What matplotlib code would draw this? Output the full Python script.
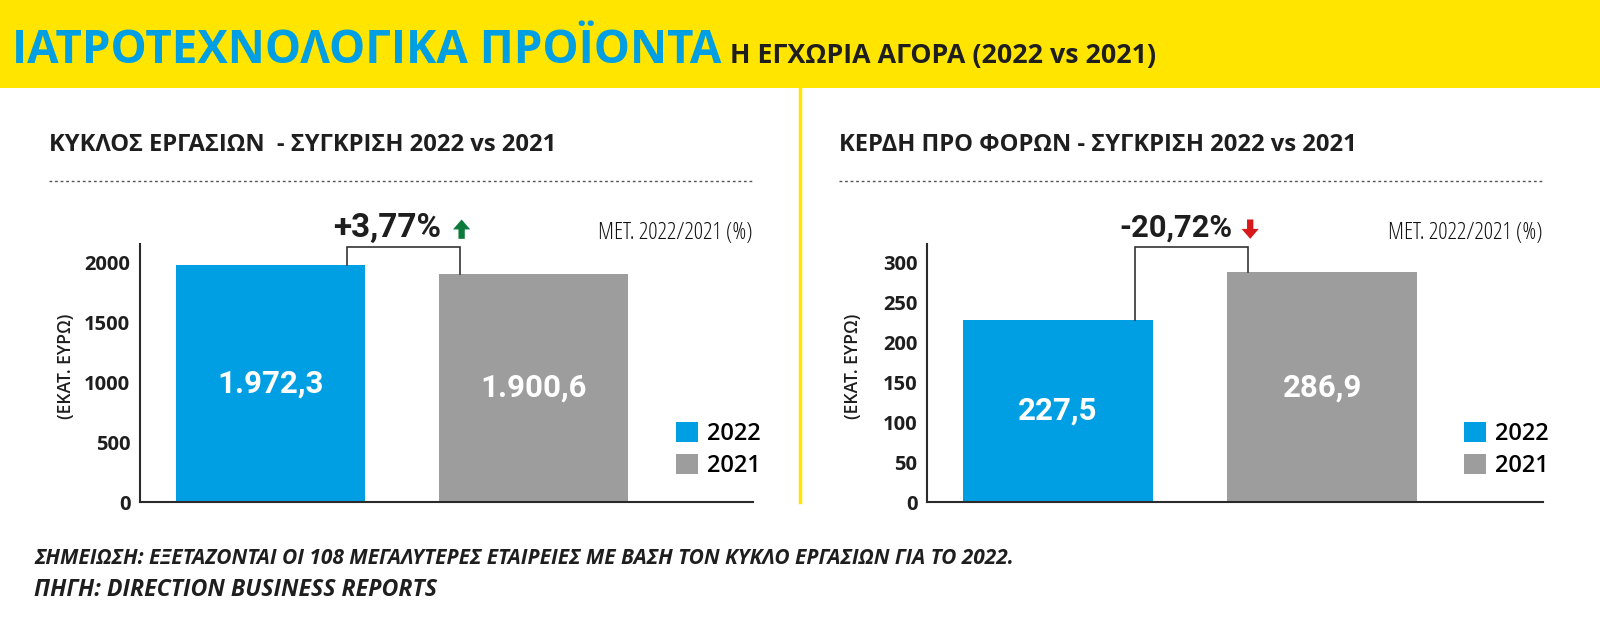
import matplotlib
matplotlib.use('Agg')
import matplotlib.pyplot as plt
from matplotlib.patches import Rectangle, Patch
from matplotlib.lines import Line2D
import matplotlib.transforms as mtrans

# ---------------- data ----------------
years = ['2022', '2021']
turnover = [1972.3, 1900.6]
profit = [227.5, 286.9]
pct_change = [3.77, -20.72]
panel_titles = ['ΚΥΚΛΟΣ ΕΡΓΑΣΙΩΝ  - ΣΥΓΚΡΙΣΗ 2022 vs 2021',
                'ΚΕΡΔΗ ΠΡΟ ΦΟΡΩΝ - ΣΥΓΚΡΙΣΗ 2022 vs 2021']
yticks_left = [0, 500, 1000, 1500, 2000]
yticks_right = [0, 50, 100, 150, 200, 250, 300]
ylim_left = 2150
ylim_right = 322.5
ylabel = '(ΕΚΑΤ. ΕΥΡΩ)'
change_label = 'ΜΕΤ. 2022/2021 (%)'
main_title = 'ΙΑΤΡΟΤΕΧΝΟΛΟΓΙΚΑ ΠΡΟΪΟΝΤΑ'
sub_title = 'Η ΕΓΧΩΡΙΑ ΑΓΟΡΑ (2022 vs 2021)'
notes = ['ΣΗΜΕΙΩΣΗ: ΕΞΕΤΑΖΟΝΤΑΙ ΟΙ 108 ΜΕΓΑΛΥΤΕΡΕΣ ΕΤΑΙΡΕΙΕΣ ΜΕ ΒΑΣΗ ΤΟΝ ΚΥΚΛΟ ΕΡΓΑΣΙΩΝ ΓΙΑ ΤΟ 2022.',
         'ΠΗΓΗ: DIRECTION BUSINESS REPORTS']

# ---------------- style ----------------
YELLOW = '#FFE500'
BLUE = '#009FE3'
GRAY = '#9D9D9D'
DARK = '#1E1E1E'
GREEN = '#0B7A3B'
RED = '#D7191C'
NARROW = ['Open Sans', 'DejaVu Sans']
HUMAN = ['Roboto', 'DejaVu Sans']
NKW = dict(family=NARROW, fontstretch='condensed')

W, H = 1600, 622
fig = plt.figure(figsize=(16, 6.22), dpi=100)
fig.patch.set_facecolor('white')


def fx(x):
    return x / W


def fy(y):
    return 1 - y / H


fits = []


def fit(t, length, vertical=False):
    fits.append((t, length, vertical))
    return t


def ftext(x, y, s, width=None, **kw):
    t = fig.text(fx(x), fy(y), s, **kw)
    if width:
        fit(t, width)
    return t


def fmt_gr(v):
    s = f'{v:,.1f}'
    return s.replace(',', 'X').replace('.', ',').replace('X', '.')


# header band
fig.add_artist(Rectangle((0, fy(88)), 1, 88 / H, transform=fig.transFigure,
                         facecolor=YELLOW, edgecolor='none', zorder=0))
fig.add_artist(Line2D([fx(800), fx(800)], [fy(88), fy(502)], transform=fig.transFigure,
                      color=YELLOW, lw=2.5))
ftext(12, 63, main_title, width=708, color='#009FE3', fontsize=31,
      fontweight='bold', va='baseline', ha='left', **NKW)
ftext(730, 63, sub_title, width=425, color=DARK, fontsize=24,
      fontweight='bold', va='baseline', ha='left', **NKW)

# footnotes
ftext(34, 559, notes[0], width=971, color=DARK, fontsize=13, fontweight='bold',
      fontstyle='italic', va='center', ha='left', **NKW)
ftext(34, 590, notes[1], width=402, color=DARK, fontsize=13, fontweight='bold',
      fontstyle='italic', va='center', ha='left', **NKW)

panels = [
    dict(values=turnover, ticks=yticks_left, ylim=ylim_left, x0=140, x1=753,
         title_x=49, title_w=508, dot=(49, 753), pct=pct_change[0], pct_w=108,
         legx=676, ylab_x=66),
    dict(values=profit, ticks=yticks_right, ylim=ylim_right, x0=927, x1=1543,
         title_x=839, title_w=516, dot=(839, 1543), pct=pct_change[1], pct_w=113,
         legx=1464, ylab_x=853),
]

for i, p in enumerate(panels):
    ax = fig.add_axes([fx(p['x0']), fy(502), (p['x1'] - p['x0']) / W, (502 - 244) / H])
    vals = p['values']
    ax.bar([0, 1], vals, width=0.72, color=[BLUE, GRAY], zorder=2)
    ax.set_xlim(-0.496, 1.835)
    ax.set_ylim(0, p['ylim'])
    ax.set_yticks(p['ticks'])
    ax.set_yticklabels([str(t) for t in p['ticks']], fontsize=14.5,
                       color=DARK, fontweight='bold', **NKW)
    ax.set_xticks([])
    ax.tick_params(axis='y', length=0, pad=7)
    for s in ['top', 'right']:
        ax.spines[s].set_visible(False)
    for s in ['left', 'bottom']:
        ax.spines[s].set_color('#2A2A2A')
        ax.spines[s].set_linewidth(1.5)
    ax.patch.set_alpha(0)

    # value labels
    for xi, v in enumerate(vals):
        ax.text(xi, v / 2, fmt_gr(v), ha='center', va='center', color='white',
                fontsize=22.5, fontweight='bold', family=HUMAN, zorder=3)

    # bracket
    top = p['ylim'] * 0.988
    ax.plot([0.29, 0.29, 0.72, 0.72], [vals[0], top, top, vals[1]], color='#333333',
            lw=1.2, clip_on=False, zorder=4, solid_joinstyle='miter')

    trans = mtrans.blended_transform_factory(ax.transData, ax.transAxes)
    sign = '+' if p['pct'] > 0 else '-'
    pct_txt = sign + f'{abs(p["pct"]):.2f}'.replace('.', ',') + '%'
    t = ax.text(0.445, 1.062, pct_txt, transform=trans, ha='center', va='center',
                fontsize=19, fontweight='bold', family=HUMAN, color=DARK)
    fit(t, p['pct_w'])
    up = p['pct'] > 0
    y_lo, y_hi = 1.02, 1.095
    ax.annotate('', xy=(0.727, y_hi if up else y_lo), xytext=(0.727, y_lo if up else y_hi),
                xycoords=trans, textcoords=trans, annotation_clip=False,
                arrowprops=dict(arrowstyle='simple,head_length=0.55,head_width=0.95,tail_width=0.35',
                                color=GREEN if up else RED, mutation_scale=13,
                                shrinkA=0, shrinkB=0, lw=0))

    t = ax.text(1.0, 1.043, change_label, transform=ax.transAxes, ha='right', va='center',
                fontsize=15, color='#111111', fontweight='light', **NKW)
    fit(t, 155)

    # legend
    ax.legend(handles=[Patch(facecolor=BLUE, edgecolor='none', label=years[0]),
                       Patch(facecolor=GRAY, edgecolor='none', label=years[1])],
              loc='center left', bbox_to_anchor=(fx(p['legx']), fy(450)),
              bbox_transform=fig.transFigure, frameon=False,
              prop=dict(family=NARROW, stretch='condensed', size=17, weight='semibold'),
              handlelength=0.95, handleheight=0.95,
              handletextpad=0.35, labelspacing=0.35, borderpad=0, borderaxespad=0)

    # panel title & dotted rule
    ftext(p['title_x'], 145, panel_titles[i], width=p['title_w'], color=DARK,
          fontsize=21, fontweight='bold', va='center', ha='left', **NKW)
    fig.add_artist(Line2D([fx(p['dot'][0]), fx(p['dot'][1])], [fy(181), fy(181)],
                          transform=fig.transFigure, color='#555555', lw=1,
                          linestyle=(0, (2, 2))))
    t = ftext(p['ylab_x'], 366, ylabel, color=DARK, fontsize=13, fontweight='semibold',
              rotation=90, ha='center', va='center', **NKW)
    fit(t, 105, vertical=True)

# fit sizes
fig.canvas.draw()
r = fig.canvas.get_renderer()
for t, L, vert in fits:
    bb = t.get_window_extent(r)
    cur = bb.height if vert else bb.width
    t.set_fontsize(t.get_fontsize() * L / cur)

fig.savefig('out.png', dpi=100)
